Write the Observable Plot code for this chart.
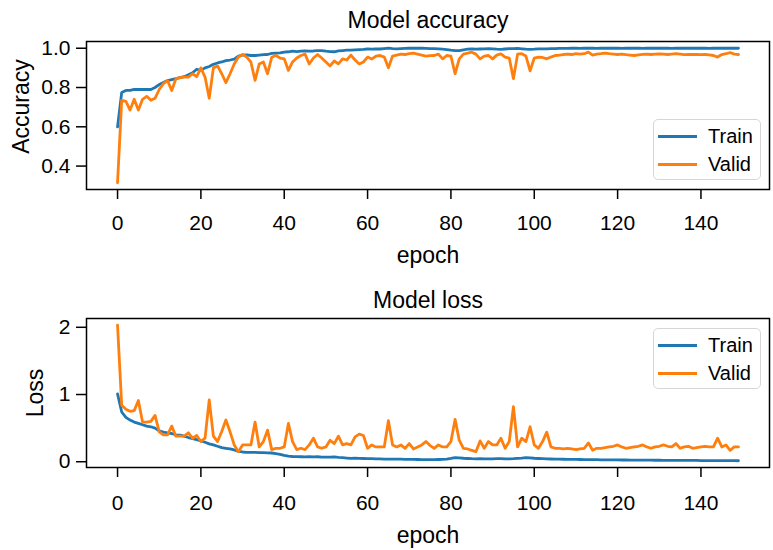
<!DOCTYPE html>
<html><head><meta charset="utf-8">
<script src="https://cdn.jsdelivr.net/npm/d3@7"></script>
<script src="https://cdn.jsdelivr.net/npm/@observablehq/plot@0.6"></script>
<style>
body{margin:0;background:#fff;font-family:"Liberation Sans",Arial,Helvetica,sans-serif;}
#wrap{position:relative;width:773px;height:550px;}
#wrap svg{display:block;}
.legend{position:absolute;box-sizing:border-box;width:108px;height:61px;border:1.3px solid #d6d6d6;border-radius:5px;background:rgba(255,255,255,0.85);font-size:20px;color:#000;}
.item{position:absolute;left:0;height:28px;line-height:28px;width:106px;}
.sw{position:absolute;left:4px;top:12.5px;width:39px;height:3px;}
.lb{position:absolute;left:54px;top:0;}
</style></head>
<body><div id="wrap"></div>
<script>
const seriesNames = ["Train", "Valid"];
const seriesColors = ["#1f77b4", "#ff7f0e"];
const xTicks = [0, 20, 40, 60, 80, 100, 120, 140];
const accTicks = [0.4, 0.6, 0.8, 1.0];
const lossTicks = [0, 1, 2];
const epochs = d3.range(150);

const trainAcc = [0.60,0.775,0.785,0.785,0.79,0.79,0.79,0.79,0.79,0.80,
0.815,0.825,0.835,0.84,0.845,0.85,0.855,0.865,0.875,0.893,
0.887,0.90,0.907,0.918,0.925,0.93,0.937,0.94,0.945,0.96,
0.965,0.966,0.963,0.963,0.965,0.967,0.968,0.974,0.975,0.976,
0.98,0.982,0.985,0.983,0.985,0.987,0.985,0.986,0.988,0.988,
0.985,0.983,0.982,0.986,0.988,0.99,0.99,0.992,0.993,0.994,
0.996,0.995,0.997,0.996,0.998,1.0,0.998,0.997,0.998,0.999,
1.0,1.0,1.0,1.0,0.999,0.998,0.998,0.997,0.995,0.993,
0.99,0.988,0.988,0.992,0.995,0.996,0.995,0.996,0.997,0.998,
0.997,0.995,0.994,0.996,0.998,0.998,0.999,0.997,0.995,0.994,
0.995,0.997,0.997,0.997,0.998,0.998,0.999,0.999,0.999,1.0,
1.0,0.999,1.0,1.0,1.0,0.999,1.0,1.0,1.0,1.0,
1.0,0.999,1.0,1.0,1.0,1.0,0.999,1.0,1.0,1.0,
1.0,1.0,1.0,0.999,1.0,1.0,1.0,1.0,1.0,1.0,
1.0,1.0,0.999,1.0,1.0,1.0,1.0,1.0,1.0,1.0];

const validAcc = [0.315,0.735,0.73,0.685,0.74,0.685,0.74,0.755,0.735,0.745,
0.79,0.82,0.835,0.785,0.845,0.85,0.853,0.853,0.87,0.855,
0.90,0.853,0.745,0.90,0.91,0.87,0.825,0.87,0.92,0.955,
0.968,0.955,0.93,0.836,0.92,0.93,0.87,0.954,0.963,0.95,
0.946,0.887,0.93,0.95,0.963,0.97,0.92,0.95,0.968,0.95,
0.93,0.91,0.935,0.92,0.946,0.94,0.965,0.94,0.92,0.93,
0.955,0.945,0.96,0.963,0.955,0.90,0.96,0.965,0.97,0.968,
0.972,0.975,0.97,0.965,0.96,0.962,0.963,0.97,0.946,0.963,
0.96,0.87,0.946,0.97,0.975,0.98,0.97,0.946,0.96,0.963,
0.946,0.965,0.971,0.955,0.95,0.845,0.97,0.972,0.96,0.885,
0.95,0.955,0.953,0.946,0.955,0.963,0.965,0.968,0.97,0.968,
0.972,0.97,0.972,0.98,0.965,0.97,0.972,0.975,0.972,0.97,
0.968,0.97,0.967,0.965,0.963,0.966,0.969,0.97,0.968,0.97,
0.971,0.97,0.968,0.97,0.972,0.97,0.967,0.968,0.969,0.968,
0.967,0.968,0.966,0.963,0.955,0.968,0.972,0.978,0.97,0.968];

const trainLoss = [1.01,0.74,0.66,0.62,0.59,0.57,0.55,0.53,0.52,0.50,
0.46,0.44,0.43,0.42,0.40,0.395,0.38,0.36,0.345,0.33,
0.31,0.29,0.265,0.25,0.23,0.21,0.20,0.19,0.175,0.155,
0.145,0.14,0.14,0.138,0.135,0.135,0.132,0.13,0.12,0.11,
0.095,0.085,0.078,0.075,0.074,0.072,0.075,0.073,0.074,0.07,
0.068,0.07,0.072,0.065,0.06,0.055,0.05,0.052,0.05,0.048,
0.045,0.046,0.044,0.042,0.04,0.038,0.04,0.04,0.038,0.036,
0.035,0.034,0.033,0.032,0.032,0.031,0.031,0.033,0.036,0.04,
0.05,0.062,0.058,0.052,0.048,0.045,0.044,0.045,0.043,0.042,
0.044,0.046,0.045,0.043,0.044,0.046,0.05,0.055,0.062,0.058,
0.052,0.048,0.045,0.043,0.041,0.04,0.038,0.037,0.036,0.035,
0.034,0.033,0.032,0.031,0.03,0.03,0.029,0.028,0.028,0.027,
0.027,0.026,0.026,0.025,0.025,0.024,0.024,0.023,0.023,0.022,
0.022,0.021,0.021,0.021,0.02,0.02,0.02,0.019,0.019,0.019,
0.018,0.018,0.018,0.017,0.017,0.017,0.016,0.016,0.016,0.015];

const validLoss = [2.03,0.84,0.78,0.75,0.76,0.91,0.59,0.59,0.60,0.69,
0.445,0.40,0.40,0.53,0.38,0.38,0.38,0.43,0.35,0.39,
0.30,0.35,0.92,0.38,0.30,0.45,0.62,0.445,0.25,0.15,
0.25,0.25,0.25,0.59,0.22,0.30,0.47,0.18,0.20,0.20,
0.22,0.57,0.30,0.18,0.20,0.18,0.25,0.35,0.22,0.20,
0.22,0.32,0.27,0.38,0.25,0.27,0.25,0.37,0.41,0.39,
0.20,0.25,0.22,0.22,0.22,0.61,0.25,0.22,0.25,0.20,
0.27,0.19,0.22,0.25,0.30,0.24,0.20,0.25,0.22,0.22,
0.30,0.63,0.32,0.20,0.19,0.17,0.15,0.31,0.20,0.30,
0.25,0.25,0.35,0.20,0.30,0.82,0.22,0.35,0.30,0.52,
0.25,0.20,0.30,0.44,0.22,0.20,0.20,0.19,0.20,0.19,
0.18,0.19,0.20,0.28,0.17,0.20,0.20,0.21,0.22,0.23,
0.25,0.22,0.20,0.21,0.22,0.23,0.25,0.22,0.20,0.22,
0.23,0.25,0.23,0.22,0.27,0.20,0.22,0.23,0.20,0.21,
0.22,0.23,0.22,0.22,0.35,0.22,0.25,0.17,0.22,0.22];

const FONT = "'Liberation Sans', Arial, Helvetica, sans-serif";

function padDomain(vals) {
  const [a, b] = d3.extent(vals);
  const m = (b - a) * 0.05;
  return [a - m, b + m];
}

function panel(o) {
  const rows = [];
  [o.train, o.valid].forEach((arr, s) => arr.forEach((v, i) => rows.push({epoch: epochs[i], value: v, series: seriesNames[s]})));
  return Plot.plot({
    width: 773, height: o.height,
    marginTop: o.mt, marginBottom: o.mb, marginLeft: 86, marginRight: 4,
    style: {fontFamily: FONT, color: "#000", background: "transparent", overflow: "visible"},
    x: {domain: padDomain(epochs)},
    y: {domain: padDomain([...o.train, ...o.valid])},
    color: {domain: seriesNames, range: seriesColors},
    marks: [
      Plot.line(rows, {x: "epoch", y: "value", z: "series", stroke: "series", strokeWidth: 2.8, strokeLinejoin: "round"}),
      Plot.frame({stroke: "#000", strokeWidth: 1.5}),
      Plot.axisX({ticks: xTicks, tickSize: 10, tickPadding: o.xPad, fontSize: 21, label: null, strokeWidth: 1.5}),
      Plot.axisY({ticks: o.yTicks, tickFormat: o.yFormat, tickSize: 10, tickPadding: 6, fontSize: 21, label: null, strokeWidth: 1.5}),
      Plot.text(["epoch"], {text: d => d, frameAnchor: "bottom", dy: o.xlabDy, lineAnchor: "bottom", textAnchor: "middle", fontSize: 23}),
      Plot.text([o.ylabel], {text: d => d, frameAnchor: "left", rotate: -90, dx: o.ylabDx, dy: o.ylabDy, lineAnchor: "bottom", textAnchor: "middle", fontSize: 23}),
      Plot.text([o.title], {text: d => d, frameAnchor: "top", dy: o.titleDy, lineAnchor: "bottom", textAnchor: "middle", fontSize: 23})
    ]
  });
}

function legend(top) {
  const div = document.createElement("div");
  div.className = "legend";
  div.style.left = "653px";
  div.style.top = top + "px";
  seriesNames.forEach((name, i) => {
    const it = document.createElement("div");
    it.className = "item";
    it.style.top = (2 + i * 28) + "px";
    const sw = document.createElement("div");
    sw.className = "sw";
    sw.style.background = seriesColors[i];
    const lb = document.createElement("div");
    lb.className = "lb";
    lb.textContent = name;
    it.append(sw, lb);
    div.append(it);
  });
  return div;
}

const wrap = document.getElementById("wrap");
wrap.append(panel({title: "Model accuracy", ylabel: "Accuracy", train: trainAcc, valid: validAcc,
  yTicks: accTicks, yFormat: d3.format(".1f"), height: 275, mt: 41, mb: 86,
  xPad: 16, xlabDy: 73, ylabDx: -58, ylabDy: -9, titleDy: -14}));
wrap.append(panel({title: "Model loss", ylabel: "Loss", train: trainLoss, valid: validLoss,
  yTicks: lossTicks, yFormat: d3.format("d"), height: 275, mt: 43, mb: 83,
  xPad: 18, xlabDy: 75, ylabDx: -44, ylabDy: 0, titleDy: -11}));
wrap.append(legend(119));
wrap.append(legend(328));
</script></body></html>
